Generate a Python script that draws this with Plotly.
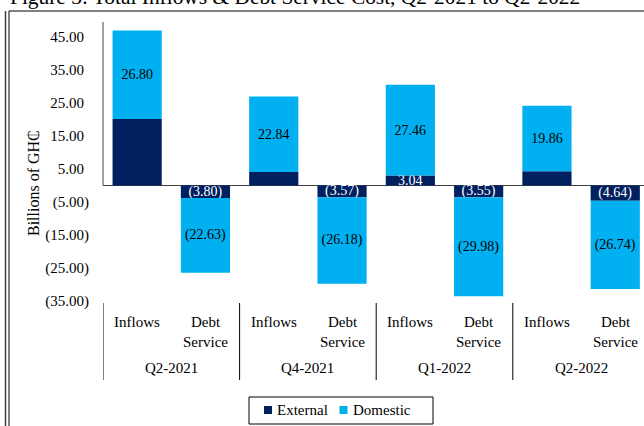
import plotly.graph_objects as go

# ----------------------------
# Data (Billions of GH₵)
# ----------------------------
quarters = ["Q2-2021", "Q4-2021", "Q1-2022", "Q2-2022"]
kinds = ["Inflows", "Debt<br>Service"]
external = [20.1, -3.80, 4.1, -3.57, 3.04, -3.55, 4.3, -4.64]
domestic = [26.80, -22.63, 22.84, -26.18, 27.46, -29.98, 19.86, -26.74]
show_external_label = [False, True, False, True, True, True, False, True]
y_ticks = [45, 35, 25, 15, 5, -5, -15, -25, -35]

EXT_COLOR = "#002060"
DOM_COLOR = "#00B0F0"
FONT = "Liberation Serif, Times New Roman, serif"

# ----------------------------
# Pixel helpers for layout
# ----------------------------
W, H = 644, 426
ML, MT, MB = 103, 22, 121
PW = W - ML
PH = H - MT - MB


def px(x):
    return (x - ML) / PW


def py(y):
    return (MT + PH - y) / PH


def fmt(v):
    return f"({abs(v):.2f})" if v < 0 else f"{v:.2f}"


x = list(range(len(external)))

fig = go.Figure()

fig.add_trace(
    go.Bar(
        x=x,
        y=external,
        name="External",
        marker=dict(color=EXT_COLOR, line=dict(width=0)),
        text=[fmt(v) if s else "" for v, s in zip(external, show_external_label)],
        textposition="inside",
        insidetextanchor="middle",
        constraintext="none",
        textfont=dict(family=FONT, size=14, color="white"),
        showlegend=False,
    )
)

fig.add_trace(
    go.Bar(
        x=x,
        y=domestic,
        name="Domestic",
        marker=dict(color=DOM_COLOR, line=dict(width=0)),
        text=[fmt(v) for v in domestic],
        textposition="inside",
        insidetextanchor="middle",
        constraintext="none",
        textfont=dict(family=FONT, size=14, color="black"),
        showlegend=False,
    )
)

# category labels under the plot
annotations = []
for i in x:
    annotations.append(dict(
        x=i, xref="x", y=py(322) if i % 2 == 0 else py(331.5), yref="paper",
        text=kinds[i % 2], showarrow=False, yanchor="middle",
        font=dict(family=FONT, size=15, color="black"),
    ))
for j, q in enumerate(quarters):
    annotations.append(dict(
        x=2 * j + 0.5, xref="x", y=py(368), yref="paper",
        text=q, showarrow=False, yanchor="middle",
        font=dict(family=FONT, size=15, color="black"),
    ))

# y axis title
annotations.append(dict(
    x=px(33), xref="paper", y=py(183), yref="paper",
    text="Billions of GH₵", textangle=-90, showarrow=False,
    xanchor="center", yanchor="middle",
    font=dict(family=FONT, size=16, color="black"),
))

# figure caption (cut off at top)
annotations.append(dict(
    x=px(8), xref="paper", y=py(-3), yref="paper",
    text="Figure 3: Total Inflows & Debt Service Cost, Q2-2021 to Q2-2022",
    showarrow=False, xanchor="left", yanchor="middle",
    font=dict(family=FONT, size=21.4, color="black"),
))

# legend (drawn by hand)
annotations.append(dict(
    x=px(275), xref="paper", y=py(410), yref="paper", text="External",
    showarrow=False, xanchor="left", yanchor="middle",
    font=dict(family=FONT, size=15, color="black"),
))
annotations.append(dict(
    x=px(350.5), xref="paper", y=py(410), yref="paper", text="Domestic",
    showarrow=False, xanchor="left", yanchor="middle",
    font=dict(family=FONT, size=15, color="black"),
))

shapes = []
# y axis line, top down to zero
shapes.append(dict(type="line", xref="paper", yref="y", x0=0, x1=0,
                   y0=0, y1=49.5, line=dict(color="#404040", width=1)))
# group separators
for b in [-0.5, 1.5, 3.5, 5.5]:
    shapes.append(dict(type="line", xref="x", yref="paper", x0=b, x1=b,
                       y0=py(303), y1=py(380), line=dict(color="black", width=1)))
# chart frame
shapes.append(dict(type="line", xref="paper", yref="paper", x0=px(9), x1=px(660),
                   y0=py(11), y1=py(11), line=dict(color="black", width=1)))
shapes.append(dict(type="line", xref="paper", yref="paper", x0=px(9), x1=px(9),
                   y0=py(11), y1=py(440), line=dict(color="black", width=1)))
shapes.append(dict(type="line", xref="paper", yref="paper", x0=px(5.5), x1=px(5.5),
                   y0=py(11), y1=py(440), line=dict(color="#404040", width=1.5)))
# legend box and keys
shapes.append(dict(type="rect", xref="paper", yref="paper", x0=px(249), x1=px(433),
                   y0=py(424), y1=py(397), line=dict(color="black", width=1)))
shapes.append(dict(type="rect", xref="paper", yref="paper", x0=px(264), x1=px(272),
                   y0=py(414), y1=py(406), line=dict(width=0), fillcolor=EXT_COLOR))
shapes.append(dict(type="rect", xref="paper", yref="paper", x0=px(339.5), x1=px(347.5),
                   y0=py(414), y1=py(406), line=dict(width=0), fillcolor=DOM_COLOR))

fig.update_layout(
    width=W,
    height=H,
    margin=dict(l=ML, r=0, t=MT, b=MB),
    barmode="relative",
    bargap=0.28,
    plot_bgcolor="white",
    paper_bgcolor="white",
    showlegend=False,
    font=dict(family=FONT, size=15, color="black"),
    annotations=annotations,
    shapes=shapes,
    xaxis=dict(
        range=[-0.5, -0.5 + PW / 68.3],
        showticklabels=False,
        showgrid=False,
        zeroline=False,
        showline=False,
        ticks="",
    ),
    yaxis=dict(
        range=[-36.2, 49.5],
        tickvals=y_ticks,
        ticktext=[fmt(v) if v < 0 else fmt(v) + "\u2004" for v in y_ticks],
        tickfont=dict(family=FONT, size=15, color="black"),
        showgrid=False,
        zeroline=True,
        zerolinecolor="#404040",
        zerolinewidth=1,
        showline=False,
        ticks="",
        ticklabelstandoff=13,
    ),
)

# page body has a default margin; drop it so the figure sits at the corner
fig.write_html(
    "out.html",
    config={"displayModeBar": False},
    post_script="document.body.style.margin = '0';",
)
